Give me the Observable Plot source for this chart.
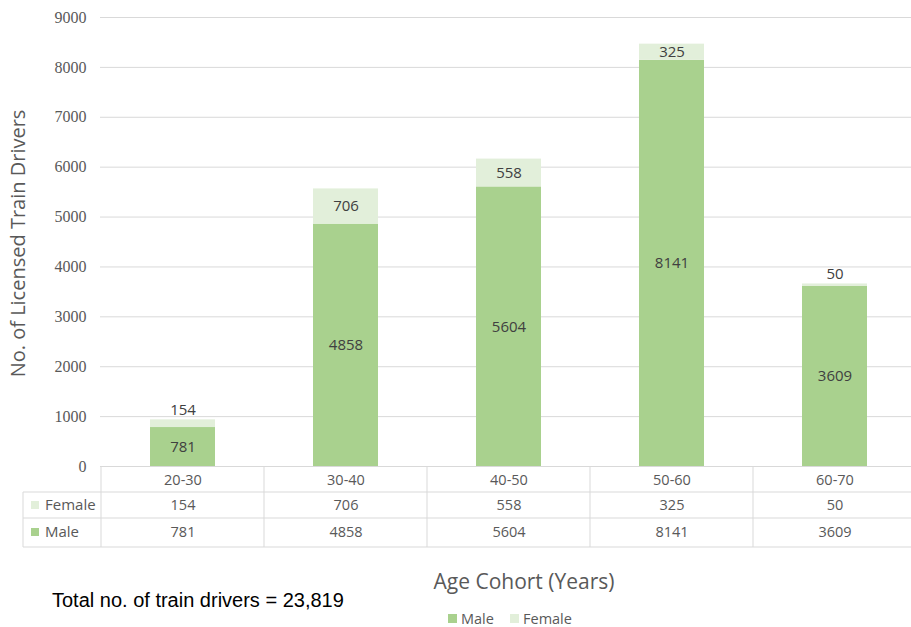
<!DOCTYPE html>
<html>
<head>
<meta charset="utf-8">
<script src="https://cdn.jsdelivr.net/npm/d3@7"></script>
<script src="https://cdn.jsdelivr.net/npm/@observablehq/plot@0.6"></script>
<style>
  html, body { margin: 0; padding: 0; background: #fff; overflow: hidden; }
  #chart { width: 911px; height: 627px; overflow: hidden; }
  #chart svg { max-width: none !important; }
</style>
</head>
<body>
<div id="chart"></div>
<script>
const cohorts = ["20-30", "30-40", "40-50", "50-60", "60-70"];
const male = [781, 4858, 5604, 8141, 3609];
const female = [154, 706, 558, 325, 50];
const series = ["Male", "Female"];
const colors = ["#a9d18e", "#e2efda"];
const yTicks = [0, 1000, 2000, 3000, 4000, 5000, 6000, 7000, 8000, 9000];
const yTitle = "No. of Licensed Train Drivers";
const xTitle = "Age Cohort (Years)";
const caption = "Total no. of train drivers = 23,819";

const rows = [];
cohorts.forEach((c, i) => {
  rows.push({cohort: c, sex: "Male", value: male[i], base: 0});
  rows.push({cohort: c, sex: "Female", value: female[i], base: male[i]});
});
const maleRows = rows.filter(d => d.sex === "Male");
const femaleRows = rows.filter(d => d.sex === "Female");

const textColor = "#404040";
const gray = "#595959";
const lineColor = "#d9d9d9";
const sans = "'Open Sans', sans-serif";
const serif = "'Liberation Serif', 'DejaVu Serif', serif";

const plot = Plot.plot({
  width: 918,
  height: 627,
  marginTop: 17,
  marginBottom: 161,
  marginLeft: 100,
  marginRight: 0,
  style: {background: "transparent", maxWidth: "none"},
  x: {domain: cohorts, paddingInner: 0.6, paddingOuter: 0.3, axis: null},
  y: {domain: [0, 9000], ticks: yTicks, label: null},
  color: {domain: series, range: colors},
  marks: [
    Plot.gridY(yTicks, {stroke: lineColor, strokeOpacity: 1, strokeWidth: 1}),
    Plot.axisY(yTicks, {tickSize: 0, tickPadding: 14, fontSize: 16, fontFamily: serif, fill: gray, tickFormat: d => String(d)}),
    Plot.barY(rows, Plot.stackY({x: "cohort", y: "value", fill: "sex", order: series})),
    // male labels
    Plot.text(maleRows, {x: "cohort", y: d => d.value / 2, text: d => String(d.value), fill: textColor, fontSize: 15, fontFamily: sans}),
    // female labels inside
    Plot.text(femaleRows.filter(d => d.value >= 200), {x: "cohort", y: d => d.base + d.value / 2, text: d => String(d.value), fill: textColor, fontSize: 15, fontFamily: sans}),
    // female labels above small segments
    Plot.text(femaleRows.filter(d => d.value < 200), {x: "cohort", y: d => d.base + d.value, dy: -10, text: d => String(d.value), fill: textColor, fontSize: 15, fontFamily: sans}),
    // data table
    Plot.text(cohorts, {x: d => d, y: () => 0, dy: 13.5, text: d => d, fill: gray, fontSize: 14.5, fontFamily: sans}),
    Plot.text(femaleRows, {x: "cohort", y: () => 0, dy: 39, text: d => String(d.value), fill: gray, fontSize: 14.5, fontFamily: sans}),
    Plot.text(maleRows, {x: "cohort", y: () => 0, dy: 66, text: d => String(d.value), fill: gray, fontSize: 14.5, fontFamily: sans})
  ]
});

plot.style.maxWidth = "none";
document.getElementById("chart").appendChild(plot);

const svg = d3.select(plot);
const xs = plot.scale("x");
const ys = plot.scale("y");
const y0 = ys.apply(0);
const step = xs.step, bw = xs.bandwidth;
const gap = (step - bw) / 2;
const rightEdge = xs.apply(cohorts[cohorts.length - 1]) + bw + gap;
const tableLeft = 23;
const rowLines = [y0 + 26, y0 + 52, y0 + 81];

const g = svg.append("g").attr("stroke", lineColor).attr("stroke-width", 1);
rowLines.forEach(yy => {
  g.append("line").attr("x1", tableLeft).attr("x2", rightEdge).attr("y1", yy).attr("y2", yy);
});
g.append("line").attr("x1", tableLeft).attr("x2", tableLeft).attr("y1", rowLines[0]).attr("y2", rowLines[2]);
cohorts.forEach(c => {
  const xx = xs.apply(c) - gap;
  g.append("line").attr("x1", xx).attr("x2", xx).attr("y1", y0).attr("y2", rowLines[2]);
});

// table row legends
const legendRows = [{name: "Female", color: colors[1], cy: y0 + 39}, {name: "Male", color: colors[0], cy: y0 + 66}];
legendRows.forEach(r => {
  svg.append("rect").attr("x", 31).attr("y", r.cy - 4).attr("width", 8).attr("height", 8).attr("fill", r.color);
  svg.append("text").attr("x", 45).attr("y", r.cy).attr("dy", "0.35em").attr("text-anchor", "start")
    .attr("font-family", sans).attr("font-size", 15).attr("fill", gray).text(r.name);
});

// y title
svg.append("text")
  .attr("transform", `translate(18,${(ys.apply(0) + ys.apply(9000)) / 2 + 2}) rotate(-90)`)
  .attr("text-anchor", "middle").attr("dy", "0.35em")
  .attr("font-family", sans).attr("font-size", 20).attr("fill", gray).text(yTitle);

// x title
svg.append("text").attr("x", 524).attr("y", 582).attr("dy", "0.35em").attr("text-anchor", "middle")
  .attr("font-family", sans).attr("font-size", 21).attr("fill", gray).text(xTitle);

// caption
svg.append("text").attr("x", 52).attr("y", 607).attr("text-anchor", "start")
  .attr("font-family", "'Liberation Sans', Arial, sans-serif").attr("font-size", 20).attr("fill", "#000").text(caption);

// bottom legend
const legendItems = [{name: "Male", color: colors[0], x: 448}, {name: "Female", color: colors[1], x: 510}];
legendItems.forEach(l => {
  svg.append("rect").attr("x", l.x).attr("y", 614).attr("width", 9).attr("height", 9).attr("fill", l.color);
  svg.append("text").attr("x", l.x + 13).attr("y", 619).attr("dy", "0.35em").attr("text-anchor", "start")
    .attr("font-family", sans).attr("font-size", 14.5).attr("fill", gray).text(l.name);
});
</script>
</body>
</html>
